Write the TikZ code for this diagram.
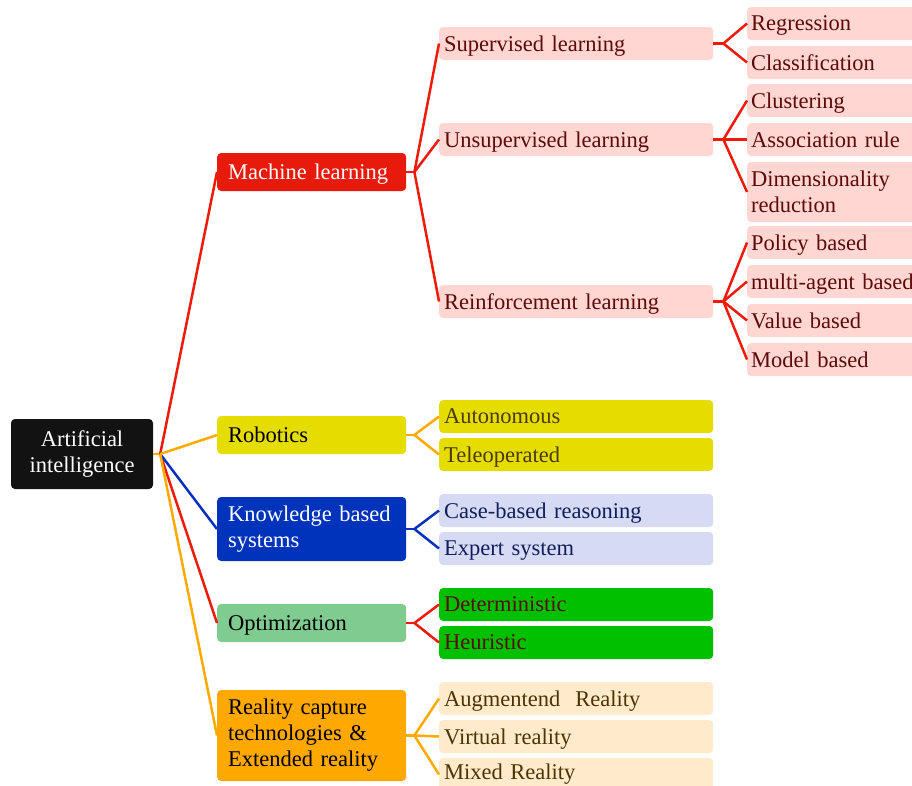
\documentclass[tikz,border=0pt]{standalone}
\usepackage{fontspec}
\setmainfont{Liberation Serif}
\usetikzlibrary{positioning}

\definecolor{mlred}{HTML}{E81A0C}
\definecolor{linered}{HTML}{EE1A0A}
\definecolor{lineorange}{HTML}{FFAA00}
\definecolor{lineblue}{HTML}{0A30C0}
\definecolor{robyellow}{HTML}{E5DC00}
\definecolor{kbsblue}{HTML}{0033BB}
\definecolor{optgreen}{HTML}{80CC90}
\definecolor{xrorange}{HTML}{FFA800}
\definecolor{lightpink}{HTML}{FFD6D1}
\definecolor{lightlav}{HTML}{D6DAF2}
\definecolor{detgreen}{HTML}{00C000}
\definecolor{lightpeach}{HTML}{FFEBCC}
\definecolor{darkred}{HTML}{5C0A0A}
\definecolor{darkolive}{HTML}{4D3A00}
\definecolor{darknavy}{HTML}{0F1F5C}
\definecolor{darkbrown}{HTML}{4D3300}

\begin{document}
\begin{tikzpicture}[x=1pt,y=-1pt]
\tikzstyle{box} = [rectangle, rounded corners=4pt, font=\fontsize{22.5}{26}\selectfont, inner ysep=2pt, text depth=0pt, align=left, anchor=west]
\tikzstyle{twolines} = [text depth={}]
\tikzstyle{lvlone} = [box, text width=167pt, inner xsep=11pt]
\tikzstyle{lvltwo} = [box, text width=264pt, inner xsep=5pt, minimum height=33pt]
\tikzstyle{lvlthree} = [box, fill=lightpink, text=darkred, text width=180pt, inner xsep=4pt, minimum height=33pt]
\tikzstyle{redline} = [line width=2.5pt, draw=linered]
\tikzstyle{orangeline} = [line width=2.5pt, draw=lineorange]
\tikzstyle{blueline} = [line width=2.5pt, draw=lineblue]

\useasboundingbox (0,0) rectangle (912,785);

% root
\node (ai) [rectangle, rounded corners=4pt, fill=black!93, text=white, minimum width=142pt, minimum height=70pt, align=center, font=\fontsize{22.5}{26}\selectfont] at (82,454) {Artificial\\intelligence};

% first level
\node (ml) [lvlone, fill=mlred, text=white, minimum height=38pt] at (217,172) {Machine learning};
\node (rob) [lvlone, fill=robyellow, minimum height=38pt] at (217,435) {Robotics};
\node (kbs) [lvlone, twolines, fill=kbsblue, text=white, minimum height=64pt] at (217,529) {Knowledge based\\systems};
\node (opt) [lvlone, fill=optgreen, minimum height=38pt] at (217,623) {Optimization};
\node (xr) [lvlone, twolines, fill=xrorange, minimum height=91pt] at (217,735.5) {Reality capture\\technologies \&\\Extended reality};

% second level
\node (sup) [lvltwo, fill=lightpink, text=darkred] at (439,43.5) {Supervised learning};
\node (unsup) [lvltwo, fill=lightpink, text=darkred] at (439,139.5) {Unsupervised learning};
\node (rl) [lvltwo, fill=lightpink, text=darkred] at (439,301.5) {Reinforcement learning};
\node (auto) [lvltwo, fill=robyellow, text=darkolive] at (439,416.5) {Autonomous};
\node (tele) [lvltwo, fill=robyellow, text=darkolive] at (439,454.5) {Teleoperated};
\node (cbr) [lvltwo, fill=lightlav, text=darknavy] at (439,510.5) {Case-based reasoning};
\node (es) [lvltwo, fill=lightlav, text=darknavy] at (439,548.5) {Expert system};
\node (det) [lvltwo, fill=detgreen, text=darkred] at (439,604.5) {Deterministic};
\node (heu) [lvltwo, fill=detgreen, text=darkred] at (439,642.5) {Heuristic};
\node (ar) [lvltwo, fill=lightpeach, text=darkbrown] at (439,698.5) {Augmentend\ \ Reality};
\node (vr) [lvltwo, fill=lightpeach, text=darkbrown] at (439,736.5) {Virtual reality};
\node (mr) [lvltwo, twolines, fill=lightpeach, text=darkbrown] at (439,774.5) {Mixed Reality};

% third level
\node (reg) [lvlthree] at (747,23.5) {Regression};
\node (cls) [lvlthree] at (747,62.5) {Classification};
\node (clu) [lvlthree] at (747,100.5) {Clustering};
\node (assoc) [lvlthree] at (747,139.5) {Association rule};
\node (dim) [lvlthree, twolines, minimum height=60pt] at (747,192) {Dimensionality\\reduction};
\node (pol) [lvlthree] at (747,242.5) {Policy based};
\node (mab) [lvlthree] at (747,281.5) {multi-agent based};
\node (val) [lvlthree] at (747,320.5) {Value based};
\node (mod) [lvlthree] at (747,359.5) {Model based};

% connectors
\draw [orangeline] (ai.east) -- ++(7,0) coordinate (aij);
\draw [redline] (aij) -- (ml.west);
\draw [redline] (aij) -- (opt.west);
\draw [blueline] (aij) -- (kbs.west);
\draw [orangeline] (aij) -- (rob.west);
\draw [orangeline] (aij) -- (xr.west);

\draw [redline] (ml.east) -- ++(8,0) coordinate (mlj);
\foreach \c in {sup,unsup,rl} \draw [redline] (mlj) -- (\c.west);
\draw [orangeline] (rob.east) -- ++(8,0) coordinate (robj);
\foreach \c in {auto,tele} \draw [orangeline] (robj) -- (\c.west);
\draw [blueline] (kbs.east) -- ++(8,0) coordinate (kbsj);
\foreach \c in {cbr,es} \draw [blueline] (kbsj) -- (\c.west);
\draw [redline] (opt.east) -- ++(8,0) coordinate (optj);
\foreach \c in {det,heu} \draw [redline] (optj) -- (\c.west);
\draw [orangeline] (xr.east) -- ++(8,0) coordinate (xrj);
\foreach \c in {ar,vr,mr} \draw [orangeline] (xrj) -- (\c.west);

\draw [redline] (sup.east) -- ++(10,0) coordinate (supj);
\foreach \c in {reg,cls} \draw [redline] (supj) -- (\c.west);
\draw [redline] (unsup.east) -- ++(10,0) coordinate (unsupj);
\foreach \c in {clu,assoc,dim} \draw [redline] (unsupj) -- (\c.west);
\draw [redline] (rl.east) -- ++(10,0) coordinate (rlj);
\foreach \c in {pol,mab,val,mod} \draw [redline] (rlj) -- (\c.west);
\end{tikzpicture}
\end{document}
